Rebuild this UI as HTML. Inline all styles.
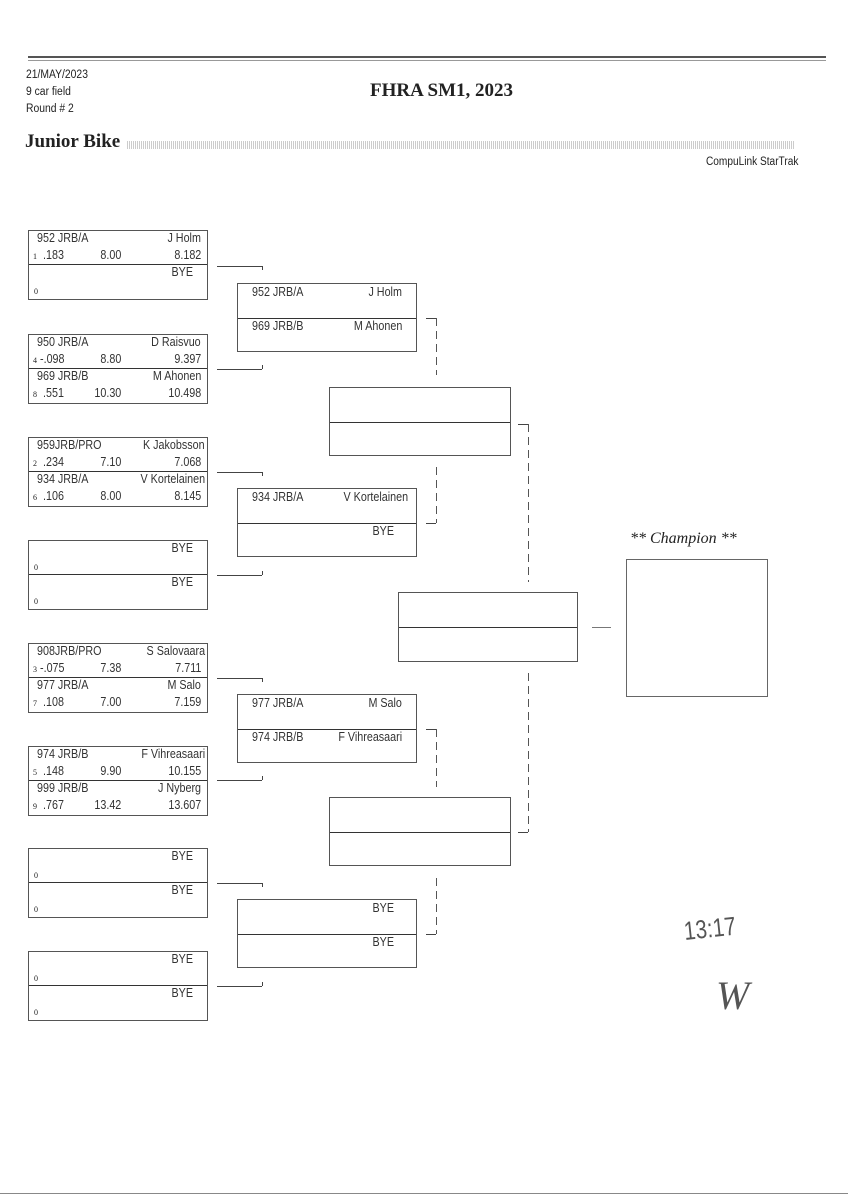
<!DOCTYPE html>
<html><head><meta charset="utf-8"><style>
body{margin:0;width:848px;height:1200px;background:#fff;position:relative;overflow:hidden;font-family:"Liberation Sans",sans-serif;color:#222}
.a{position:absolute}
.b{position:absolute;border:1px solid #555;box-sizing:border-box;background:#fff}
.d{position:absolute;left:0;right:0;border-top:1px solid #333}
.t{position:absolute;font-size:12.5px;line-height:14px;white-space:nowrap;transform:scaleX(0.86);transform-origin:left;color:#333}
.r{transform-origin:right}
.s{position:absolute;font-family:"Liberation Serif",serif;font-size:8px;line-height:10px}
.h{position:absolute;border-top:1px solid #444;height:0}
.v{position:absolute;border-left:1px solid #444;width:0}
.dv{position:absolute;width:1px;background:repeating-linear-gradient(180deg,#555 0 8px,transparent 8px 13px)}
</style></head><body>
<div class="a" style="left:28px;top:56px;width:798px;height:2px;background:#555"></div>
<div class="a" style="left:28px;top:60px;width:798px;height:1px;background:#999"></div>
<div class="a" style="left:26px;top:67px;font-size:11.5px;line-height:17px;color:#222;transform:scaleX(0.9);transform-origin:left">21/MAY/2023<br>9 car field<br>Round # 2</div>
<div class="a" style="left:370px;top:80px;font-family:'Liberation Serif',serif;font-weight:bold;font-size:19px">FHRA SM1, 2023</div>
<div class="a" style="left:25px;top:131px;font-family:'Liberation Serif',serif;font-weight:bold;font-size:19px">Junior Bike</div>
<div class="a" style="left:127px;top:141px;width:668px;height:8px;background:repeating-linear-gradient(90deg,#ccc 0 1px,#fff 1px 2px)"></div>
<div class="a" style="left:706px;top:156px;font-size:11.5px;color:#222;transform:scaleX(0.88);transform-origin:left">CompuLink StarTrak</div>
<div class="a" style="left:0;top:1193px;width:848px;height:1px;background:#888"></div>

<!-- Round 1 -->
<div class="b" style="left:28px;top:230px;width:180px;height:70px"><div class="d" style="top:33px"></div>
<div class="t" style="left:8px;top:0px">952 JRB/A</div><div class="t r" style="right:6px;top:0px">J Holm</div>
<div class="s" style="left:4px;top:21px">1</div><div class="t" style="left:14px;top:17px">.183</div><div class="t r" style="right:86px;top:17px">8.00</div><div class="t r" style="right:6px;top:17px">8.182</div>
<div class="t r" style="right:14px;top:34px">BYE</div><div class="s" style="left:5px;top:56px">0</div></div>

<div class="b" style="left:28px;top:334px;width:180px;height:70px"><div class="d" style="top:33px"></div>
<div class="t" style="left:8px;top:0px">950 JRB/A</div><div class="t r" style="right:6px;top:0px">D Raisvuo</div>
<div class="s" style="left:4px;top:21px">4</div><div class="t" style="left:11px;top:17px">-.098</div><div class="t r" style="right:86px;top:17px">8.80</div><div class="t r" style="right:6px;top:17px">9.397</div>
<div class="t" style="left:8px;top:34px">969 JRB/B</div><div class="t r" style="right:6px;top:34px">M Ahonen</div>
<div class="s" style="left:4px;top:55px">8</div><div class="t" style="left:14px;top:51px">.551</div><div class="t r" style="right:86px;top:51px">10.30</div><div class="t r" style="right:6px;top:51px">10.498</div></div>

<div class="b" style="left:28px;top:437px;width:180px;height:70px"><div class="d" style="top:33px"></div>
<div class="t" style="left:8px;top:0px">959JRB/PRO</div><div class="t r" style="right:2px;top:0px">K Jakobsson</div>
<div class="s" style="left:4px;top:21px">2</div><div class="t" style="left:14px;top:17px">.234</div><div class="t r" style="right:86px;top:17px">7.10</div><div class="t r" style="right:6px;top:17px">7.068</div>
<div class="t" style="left:8px;top:34px">934 JRB/A</div><div class="t r" style="right:2px;top:34px">V Kortelainen</div>
<div class="s" style="left:4px;top:55px">6</div><div class="t" style="left:14px;top:51px">.106</div><div class="t r" style="right:86px;top:51px">8.00</div><div class="t r" style="right:6px;top:51px">8.145</div></div>

<div class="b" style="left:28px;top:540px;width:180px;height:70px"><div class="d" style="top:33px"></div>
<div class="t r" style="right:14px;top:0px">BYE</div><div class="s" style="left:5px;top:22px">0</div>
<div class="t r" style="right:14px;top:34px">BYE</div><div class="s" style="left:5px;top:56px">0</div></div>

<div class="b" style="left:28px;top:643px;width:180px;height:70px"><div class="d" style="top:33px"></div>
<div class="t" style="left:8px;top:0px">908JRB/PRO</div><div class="t r" style="right:2px;top:0px">S Salovaara</div>
<div class="s" style="left:4px;top:21px">3</div><div class="t" style="left:11px;top:17px">-.075</div><div class="t r" style="right:86px;top:17px">7.38</div><div class="t r" style="right:6px;top:17px">7.711</div>
<div class="t" style="left:8px;top:34px">977 JRB/A</div><div class="t r" style="right:6px;top:34px">M Salo</div>
<div class="s" style="left:4px;top:55px">7</div><div class="t" style="left:14px;top:51px">.108</div><div class="t r" style="right:86px;top:51px">7.00</div><div class="t r" style="right:6px;top:51px">7.159</div></div>

<div class="b" style="left:28px;top:746px;width:180px;height:70px"><div class="d" style="top:33px"></div>
<div class="t" style="left:8px;top:0px">974 JRB/B</div><div class="t r" style="right:2px;top:0px">F Vihreasaari</div>
<div class="s" style="left:4px;top:21px">5</div><div class="t" style="left:14px;top:17px">.148</div><div class="t r" style="right:86px;top:17px">9.90</div><div class="t r" style="right:6px;top:17px">10.155</div>
<div class="t" style="left:8px;top:34px">999 JRB/B</div><div class="t r" style="right:6px;top:34px">J Nyberg</div>
<div class="s" style="left:4px;top:55px">9</div><div class="t" style="left:14px;top:51px">.767</div><div class="t r" style="right:86px;top:51px">13.42</div><div class="t r" style="right:6px;top:51px">13.607</div></div>

<div class="b" style="left:28px;top:848px;width:180px;height:70px"><div class="d" style="top:33px"></div>
<div class="t r" style="right:14px;top:0px">BYE</div><div class="s" style="left:5px;top:22px">0</div>
<div class="t r" style="right:14px;top:34px">BYE</div><div class="s" style="left:5px;top:56px">0</div></div>

<div class="b" style="left:28px;top:951px;width:180px;height:70px"><div class="d" style="top:33px"></div>
<div class="t r" style="right:14px;top:0px">BYE</div><div class="s" style="left:5px;top:22px">0</div>
<div class="t r" style="right:14px;top:34px">BYE</div><div class="s" style="left:5px;top:56px">0</div></div>

<!-- R1 connectors -->
<div class="h" style="left:217px;top:266px;width:45px"></div><div class="v" style="left:262px;top:266px;height:4px"></div>
<div class="h" style="left:217px;top:369px;width:45px"></div><div class="v" style="left:262px;top:365px;height:4px"></div>
<div class="h" style="left:217px;top:472px;width:45px"></div><div class="v" style="left:262px;top:472px;height:4px"></div>
<div class="h" style="left:217px;top:575px;width:45px"></div><div class="v" style="left:262px;top:571px;height:4px"></div>
<div class="h" style="left:217px;top:678px;width:45px"></div><div class="v" style="left:262px;top:678px;height:4px"></div>
<div class="h" style="left:217px;top:780px;width:45px"></div><div class="v" style="left:262px;top:776px;height:4px"></div>
<div class="h" style="left:217px;top:883px;width:45px"></div><div class="v" style="left:262px;top:883px;height:4px"></div>
<div class="h" style="left:217px;top:986px;width:45px"></div><div class="v" style="left:262px;top:982px;height:4px"></div>

<!-- Round 2 -->
<div class="b" style="left:237px;top:283px;width:180px;height:69px"><div class="d" style="top:34px"></div>
<div class="t" style="left:14px;top:1px">952 JRB/A</div><div class="t r" style="right:14px;top:1px">J Holm</div>
<div class="t" style="left:14px;top:35px">969 JRB/B</div><div class="t r" style="right:14px;top:35px">M Ahonen</div></div>
<div class="b" style="left:237px;top:488px;width:180px;height:69px"><div class="d" style="top:34px"></div>
<div class="t" style="left:14px;top:1px">934 JRB/A</div><div class="t r" style="right:8px;top:1px">V Kortelainen</div>
<div class="t r" style="right:22px;top:35px">BYE</div></div>
<div class="b" style="left:237px;top:694px;width:180px;height:69px"><div class="d" style="top:34px"></div>
<div class="t" style="left:14px;top:1px">977 JRB/A</div><div class="t r" style="right:14px;top:1px">M Salo</div>
<div class="t" style="left:14px;top:35px">974 JRB/B</div><div class="t r" style="right:14px;top:35px">F Vihreasaari</div></div>
<div class="b" style="left:237px;top:899px;width:180px;height:69px"><div class="d" style="top:34px"></div>
<div class="t r" style="right:22px;top:1px">BYE</div>
<div class="t r" style="right:22px;top:35px">BYE</div></div>

<!-- R2 connectors -->
<div class="h" style="left:426px;top:318px;width:10px"></div><div class="dv" style="left:436px;top:318px;height:57px"></div>
<div class="dv" style="left:436px;top:467px;height:56px"></div><div class="h" style="left:426px;top:523px;width:10px"></div>
<div class="h" style="left:426px;top:729px;width:10px"></div><div class="dv" style="left:436px;top:729px;height:58px"></div>
<div class="dv" style="left:436px;top:878px;height:56px"></div><div class="h" style="left:426px;top:934px;width:10px"></div>

<!-- Round 3 -->
<div class="b" style="left:329px;top:387px;width:182px;height:69px"><div class="d" style="top:34px"></div></div>
<div class="b" style="left:329px;top:797px;width:182px;height:69px"><div class="d" style="top:34px"></div></div>
<div class="h" style="left:518px;top:424px;width:10px"></div><div class="dv" style="left:528px;top:424px;height:158px"></div>
<div class="dv" style="left:528px;top:673px;height:159px"></div><div class="h" style="left:518px;top:832px;width:10px"></div>

<!-- Round 4 -->
<div class="b" style="left:398px;top:592px;width:180px;height:70px"><div class="d" style="top:34px"></div></div>
<div class="h" style="left:592px;top:627px;width:19px;border-color:#777"></div>

<!-- Champion -->
<div class="a" style="left:630px;top:530px;font-family:'Liberation Serif',serif;font-style:italic;font-size:16px">** Champion **</div>
<div class="b" style="left:626px;top:559px;width:142px;height:138px;border-color:#666"></div>

<div class="a" style="left:684px;top:916px;font-family:'Liberation Sans',sans-serif;font-size:26px;color:#555;transform:rotate(-6deg) scaleX(0.8);transform-origin:left">13:17</div>
<div class="a" style="left:716px;top:972px;font-family:'Liberation Serif',serif;font-style:italic;font-size:40px;color:#555">W</div>
</body></html>
